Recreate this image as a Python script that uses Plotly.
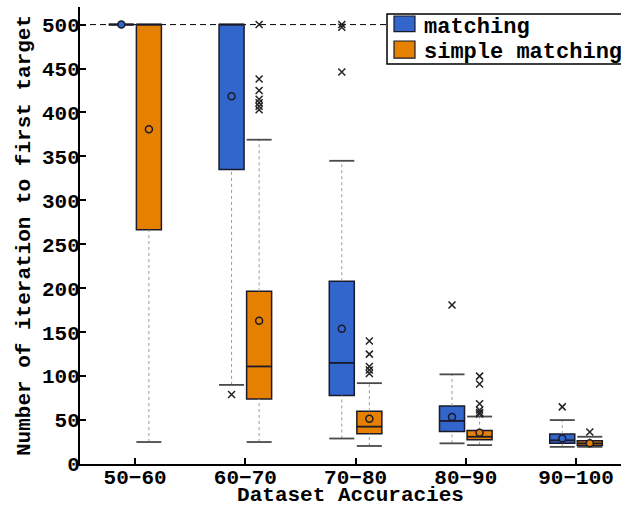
import plotly.graph_objects as go

# ---------------- data ----------------
categories = ["50\u221260", "60\u221270", "70\u221280", "80\u221290", "90\u2212100"]
series_names = ["matching", "simple matching"]

# matching (blue)
m_q1 = [500, 335, 78, 37, 23.5]
m_median = [500, 500, 115, 49, 27]
m_q3 = [500, 500, 208, 66, 34]
m_low = [500, 90, 29, 23.5, 19.5]
m_high = [500, 500, 345, 102, 50]
m_mean = [500, 418.5, 154, 53.5, 29]
m_out_cat = [1, 2, 2, 2, 3, 4]
m_out_val = [79, 500, 497, 446, 181, 65]

# simple matching (orange)
s_q1 = [266.5, 74, 34.5, 27.5, 21]
s_median = [500, 111, 42.5, 31, 23.5]
s_q3 = [500, 196.5, 60, 38, 26.5]
s_low = [25, 25, 20.5, 21.5, 19.5]
s_high = [500, 369, 92, 54, 31]
s_mean = [381, 163, 51.5, 35.5, 23.5]
s_out_cat = [1, 1, 1, 1, 1, 1, 1, 2, 2, 2, 2, 2, 3, 3, 3, 3, 3, 3, 4]
s_out_val = [500, 438, 425, 415, 411, 407, 403,
             140, 125, 111, 107, 103,
             100, 91, 68.5, 61.5, 58.5, 57,
             36.5]

max_iter = 500
y_ticks = list(range(0, 501, 50))

# ---------------- style ----------------
BLUE = "#3366CC"
ORANGE = "#E68000"
EDGE = "#1a1a2a"
FONT = "Liberation Mono"
FS = 21
OFFSETS = [-0.125, 0.125]
BW = 0.227

fig = go.Figure()

series = [
    (series_names[0], BLUE, m_q1, m_median, m_q3, m_low, m_high, m_mean, m_out_cat, m_out_val),
    (series_names[1], ORANGE, s_q1, s_median, s_q3, s_low, s_high, s_mean, s_out_cat, s_out_val),
]

for k, (name, col, q1, med, q3, lo, hi, mean, oc, ov) in enumerate(series):
    off = OFFSETS[k]
    xs = [i + off for i in range(len(categories))]

    # whiskers (dotted)
    wx, wy = [], []
    for x, a, b, c, d in zip(xs, lo, q1, q3, hi):
        wx += [x, x, None, x, x, None]
        wy += [a, b, None, c, d, None]
    fig.add_trace(go.Scatter(x=wx, y=wy, mode="lines", showlegend=False, hoverinfo="skip",
                             line=dict(color="#9a9a9a", width=1, dash="dot")))

    # boxes
    fig.add_trace(go.Bar(x=xs, y=[b - a for a, b in zip(q1, q3)], base=q1, width=BW,
                         marker=dict(color=col, line=dict(color=EDGE, width=1.5)),
                         showlegend=False, name=name))

    # caps
    cx, cy = [], []
    for x, a, d in zip(xs, lo, hi):
        cx += [x - BW / 2, x + BW / 2, None, x - BW / 2, x + BW / 2, None]
        cy += [a, a, None, d, d, None]
    fig.add_trace(go.Scatter(x=cx, y=cy, mode="lines", showlegend=False, hoverinfo="skip",
                             line=dict(color="#4a4a4a", width=1.8)))

    # medians
    mx, my = [], []
    for x, m in zip(xs, med):
        mx += [x - BW / 2, x + BW / 2, None]
        my += [m, m, None]
    fig.add_trace(go.Scatter(x=mx, y=my, mode="lines", showlegend=False, hoverinfo="skip",
                             line=dict(color=EDGE, width=1.8)))

    # outliers
    fig.add_trace(go.Scatter(x=[c + off for c in oc], y=ov, mode="markers", showlegend=False,
                             marker=dict(symbol="x-thin", size=7, color="#222",
                                         line=dict(color="#222", width=1.5))))

    # means
    fig.add_trace(go.Scatter(x=xs, y=mean, mode="markers", showlegend=False,
                             marker=dict(symbol="circle", size=7, color=col,
                                         line=dict(color=EDGE, width=1.5))))

# dashed max-iteration reference line
fig.add_shape(type="line", xref="paper", yref="y", x0=0, x1=1, y0=max_iter, y1=max_iter,
              line=dict(color="black", width=1, dash="6px,4px"), layer="below")

# legend box (drawn in paper coordinates)
fig.add_shape(type="rect", xref="paper", yref="paper", x0=0.5675, x1=1.02, y0=0.8753, y1=0.9847,
              line=dict(color="black", width=1.5), fillcolor="white", layer="above")
legend_rows = [(0.9803, 0.9460, 0.9550), (0.9256, 0.8880, 0.9010)]
for (name, col), (ya, yb, yt) in zip([(series_names[0], BLUE), (series_names[1], ORANGE)], legend_rows):
    fig.add_shape(type="rect", xref="paper", yref="paper", x0=0.5804, x1=0.6192, y0=yb, y1=ya,
                  line=dict(color=EDGE, width=1.2), fillcolor=col, layer="above")
    fig.add_annotation(xref="paper", yref="paper", x=0.632, y=yt, xanchor="left", yanchor="middle",
                       text=name, showarrow=False,
                       font=dict(family=FONT, size=22, color="black", weight="bold"))

fig.update_layout(
    width=621, height=507,
    margin=dict(l=80, r=0, t=7, b=43),
    plot_bgcolor="white", paper_bgcolor="white",
    barmode="overlay",
    font=dict(family=FONT, size=FS, color="black"),
    showlegend=False,
    xaxis=dict(range=[-0.5, 4.408], tickmode="array", tickvals=list(range(len(categories))),
               ticktext=categories, ticks="inside", ticklen=6, tickwidth=2, tickcolor="black",
               showline=True, linecolor="black", linewidth=2, showgrid=False, zeroline=False,
               ticklabelstandoff=-7,
               tickfont=dict(family=FONT, size=FS, weight="bold"),
               title=dict(text="Dataset Accuracies", standoff=4,
                          font=dict(family=FONT, size=FS, weight="bold")),
               automargin=False),
    yaxis=dict(range=[0, 520], tickmode="array", tickvals=y_ticks,
               ticks="inside", ticklen=6, tickwidth=2, tickcolor="black",
               showline=True, linecolor="black", linewidth=2, showgrid=False, zeroline=False,
               ticklabelstandoff=-6,
               tickfont=dict(family=FONT, size=FS, weight="bold"),
               title=dict(text="Number of iteration to first target", standoff=6,
                          font=dict(family=FONT, size=FS, weight="bold")),
               automargin=False),
)

fig.write_html("out.html", config={"displayModeBar": False},
               post_script="document.body.style.margin='0px';")
